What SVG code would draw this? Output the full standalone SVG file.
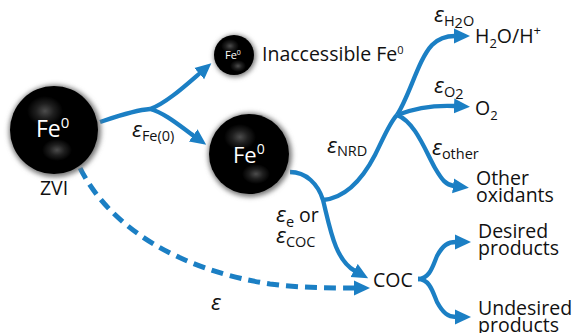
<svg xmlns="http://www.w3.org/2000/svg" width="574" height="333" viewBox="0 0 574 333">
<style>
.t{font-family:"Open Sans","Liberation Sans",sans-serif;fill:#111;font-size:19.5px}
.w{font-family:"Open Sans","Liberation Sans",sans-serif;fill:#fff}
.eps{font-family:"Open Sans","Liberation Sans",sans-serif;font-style:italic;fill:#111;font-size:22px}
.sub{font-family:"Open Sans","Liberation Sans",sans-serif;font-style:normal;fill:#111;font-size:14.5px}
.ln{fill:none;stroke:#1b7fc4;stroke-width:4.3;marker-end:url(#ah)}
.nl{fill:none;stroke:#1b7fc4;stroke-width:4.3}
.ds{fill:none;stroke:#1b7fc4;stroke-width:5;stroke-dasharray:12 7;marker-end:url(#ah)}
</style>
<defs>
<marker id="ah" markerUnits="userSpaceOnUse" markerWidth="18" markerHeight="16" refX="1" refY="8" orient="auto">
<path d="M0,0.5 L16,8 L0,15.5 z" fill="#1b7fc4"/>
</marker>
<radialGradient id="hl" cx="0.5" cy="0.5" r="0.5">
<stop offset="0" stop-color="#fff" stop-opacity="0.3"/>
<stop offset="0.5" stop-color="#fff" stop-opacity="0.12"/>
<stop offset="1" stop-color="#fff" stop-opacity="0"/>
</radialGradient>
<filter id="bl" x="-20%" y="-20%" width="140%" height="140%"><feGaussianBlur stdDeviation="2.5"/></filter>
</defs>

<g id="connectors">
<path class="nl" d="M100,122 C118,116 135,110 150,109"/>
<path class="ln" d="M150,109 C165,104 185,86 200,73"/>
<path class="ln" d="M150,109 C165,113 180,126 194,136"/>
<path class="ln" d="M290,172 C306,172 318,184 323,200 C330,228 335,260 355,271"/>
<path class="nl" d="M323,200 C345,198 362,180 375,155 C385,135 390,122 397,115"/>
<path class="ln" d="M397,115 C410,95 418,60 432,45 C438,39 445,36 455,36"/>
<path class="ln" d="M397,115 C415,108 435,105 455,106"/>
<path class="ln" d="M397,115 C415,122 425,150 435,168 C442,180 446,185 454,186"/>
<path class="ln" d="M418,279 C430,279 433,265 437,256 C443,245 448,242 456,242"/>
<path class="ln" d="M418,279 C430,279 433,293 437,302 C443,313 448,317 456,317"/>
<path class="ds" d="M80,168 C110,228 180,270 270,284 C300,288 330,288 355,288"/>
</g>

<g id="zvi">
<circle cx="55" cy="131" r="46" fill="#777" filter="url(#bl)"/>
<circle cx="54" cy="130" r="44" fill="#000"/>
<ellipse cx="45" cy="111" rx="18" ry="15" fill="url(#hl)"/>
<ellipse cx="57" cy="150" rx="15" ry="11" fill="url(#hl)"/>
<text class="w" x="36" y="137" font-size="23">Fe<tspan font-size="15" dy="-9">0</tspan></text>
<text class="t" x="54" y="195" text-anchor="middle">ZVI</text>
</g>

<g id="fe-small">
<circle cx="235" cy="56" r="21" fill="#777" filter="url(#bl)"/>
<circle cx="234" cy="55" r="20" fill="#000"/>
<ellipse cx="230" cy="46" rx="9" ry="7" fill="url(#hl)"/>
<ellipse cx="238" cy="66" rx="8" ry="6" fill="url(#hl)"/>
<text class="w" x="225" y="59" font-size="11">Fe<tspan font-size="7" dy="-4">0</tspan></text>
<text class="t" x="262" y="61" font-size="17">Inaccessible Fe<tspan font-size="11" dy="-7">0</tspan></text>
</g>

<g id="fe-accessible">
<circle cx="250" cy="155" r="42" fill="#777" filter="url(#bl)"/>
<circle cx="249" cy="154" r="40" fill="#000"/>
<ellipse cx="240" cy="137" rx="16" ry="13" fill="url(#hl)"/>
<ellipse cx="256" cy="174" rx="14" ry="10" fill="url(#hl)"/>
<text class="w" x="233" y="163" font-size="22">Fe<tspan font-size="14" dy="-9">0</tspan></text>
</g>

<g id="h2o">
<text class="t" x="475" y="43">H<tspan font-size="13" dy="5">2</tspan><tspan dy="-5">O/H</tspan><tspan font-size="13" dy="-8">+</tspan></text>
</g>
<g id="o2">
<text class="t" x="475" y="115">O<tspan font-size="13" dy="5">2</tspan></text>
</g>
<g id="other">
<text class="t" x="476" y="185">Other</text>
<text class="t" x="476" y="202">oxidants</text>
</g>
<g id="coc">
<text class="t" x="373" y="287">COC</text>
</g>
<g id="desired">
<text class="t" x="478" y="238">Desired</text>
<text class="t" x="478" y="255">products</text>
</g>
<g id="undesired">
<text class="t" x="478" y="315">Undesired</text>
<text class="t" x="478" y="332">products</text>
</g>

<g id="labels">
<text class="eps" x="132" y="137">ε<tspan class="sub" dy="4">Fe(0)</tspan></text>
<text class="eps" x="434" y="22">ε<tspan class="sub" dy="4">H</tspan><tspan class="sub" font-size="10" dy="2">2</tspan><tspan class="sub" dy="-2">O</tspan></text>
<text class="eps" x="434" y="93">ε<tspan class="sub" dy="4">O</tspan><tspan class="sub" font-size="10" dy="2">2</tspan></text>
<text class="eps" x="327" y="153">ε<tspan class="sub" dy="3">NRD</tspan></text>
<text class="eps" x="432" y="155">ε<tspan class="sub" dy="4">other</tspan></text>
<text class="eps" x="276" y="222">ε<tspan class="sub" dy="5">e</tspan><tspan class="t" font-style="normal" dy="-5"> or</tspan></text>
<text class="eps" x="276" y="243">ε<tspan class="sub" dy="4">COC</tspan></text>
<text class="eps" x="211" y="310">ε</text>
</g>
</svg>
